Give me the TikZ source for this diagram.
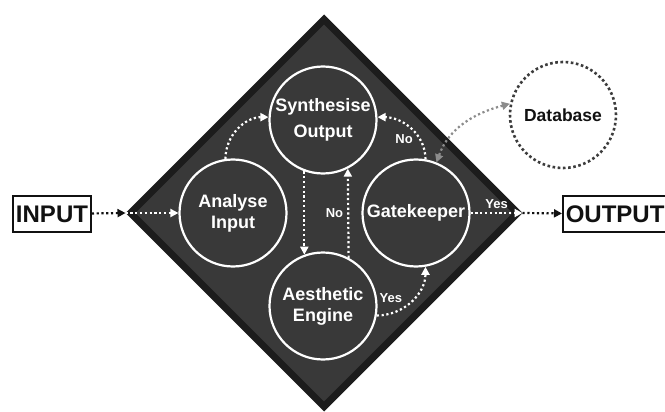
\documentclass[tikz,border=0pt]{standalone}
\usepackage{fontspec}
\setmainfont{Liberation Sans}
\usepackage{tikz}
\usepackage{xcolor}
\usetikzlibrary{arrows.meta,positioning,shapes.geometric}
\definecolor{slab}{HTML}{393939}
\definecolor{rim}{HTML}{1C1C1C}
\definecolor{ink}{HTML}{111111}
\definecolor{store}{HTML}{3C3C3C}
\definecolor{link}{HTML}{8C8C8C}
\tikzset{
  frame/.style={diamond, aspect=1, draw=rim, fill=slab, line width=7pt,
                minimum width=390pt, minimum height=390pt, inner sep=0pt},
  stage/.style={circle, draw=white, line width=2.2pt, text=white, minimum size=107pt,
                inner sep=0pt, align=center, font=\fontsize{18}{21}\selectfont\bfseries},
  dbase/.style={circle, draw=store, line width=2.6pt, dash pattern=on 2.6pt off 2.6pt,
                minimum size=106pt, inner sep=0pt, text=ink,
                font=\fontsize{17.5}{21}\selectfont\bfseries},
  iobox/.style={draw=ink, line width=1.6pt, fill=white, text=ink, inner xsep=3pt,
                inner ysep=2pt, minimum height=36pt, font=\fontsize{24}{28}\selectfont\bfseries},
  flow/.style={-{Triangle[length=8pt,width=8pt]}, draw=white, line width=2.2pt,
               dash pattern=on 2.2pt off 2.6pt},
  feed/.style={-{Triangle[length=8pt,width=8pt]}, draw=ink, line width=2.2pt,
               dash pattern=on 2.2pt off 2.6pt},
  query/.style={{Triangle[length=8pt,width=8pt]}-{Triangle[length=8pt,width=8pt]},
                draw=link, line width=2.2pt, dash pattern=on 2.2pt off 2.6pt},
  tag/.style={text=white, font=\fontsize{13}{15}\selectfont\bfseries, inner sep=1pt}
}
\begin{document}
\begin{tikzpicture}[x=1pt,y=-1pt]
  \useasboundingbox (0,0) rectangle (665,412);
  \node[frame] (frame) at (324,213) {};
  % the four stages
  \node[stage] (synth) at (323,120) {Synthesise\\[5pt]Output};
  \node[stage] (analyse) at (233,213) {Analyse\\Input};
  \node[stage] (gate) at (416,213) {Gatekeeper};
  \node[stage] (aesth) at (323,306) {Aesthetic\\Engine};
  \node[dbase] (db) at (563,115) {Database};
  \node[iobox] (in) at (52,214) {INPUT};
  \node[iobox, anchor=west] (out) at (562,214) {OUTPUT};
  % connectors
  \draw[feed] (in) -- (frame.west);
  \draw[flow] (frame.west) -- (analyse);
  \draw[flow] (analyse.98) to[out=90,in=180] (synth.177);
  \draw[flow] (synth.250) -- (aesth.110);
  \draw[flow] (aesth.62) -- node[tag, left=3pt] {No} (synth.297);
  \draw[flow] (gate.80) to[out=90,in=0] node[tag, pos=0.3, left=5pt] {No} (synth.3);
  \draw[flow] (aesth.350) to[out=0,in=270] node[tag, pos=0.4, above left=2pt] {Yes} (gate.280);
  \draw[flow] (gate) -- node[tag, above=2pt] {Yes} (frame.east);
  \draw[feed] (frame.east) -- (out);
  \draw[query] (db.168) to[out=195,in=70] (gate.68);
\end{tikzpicture}
\end{document}
